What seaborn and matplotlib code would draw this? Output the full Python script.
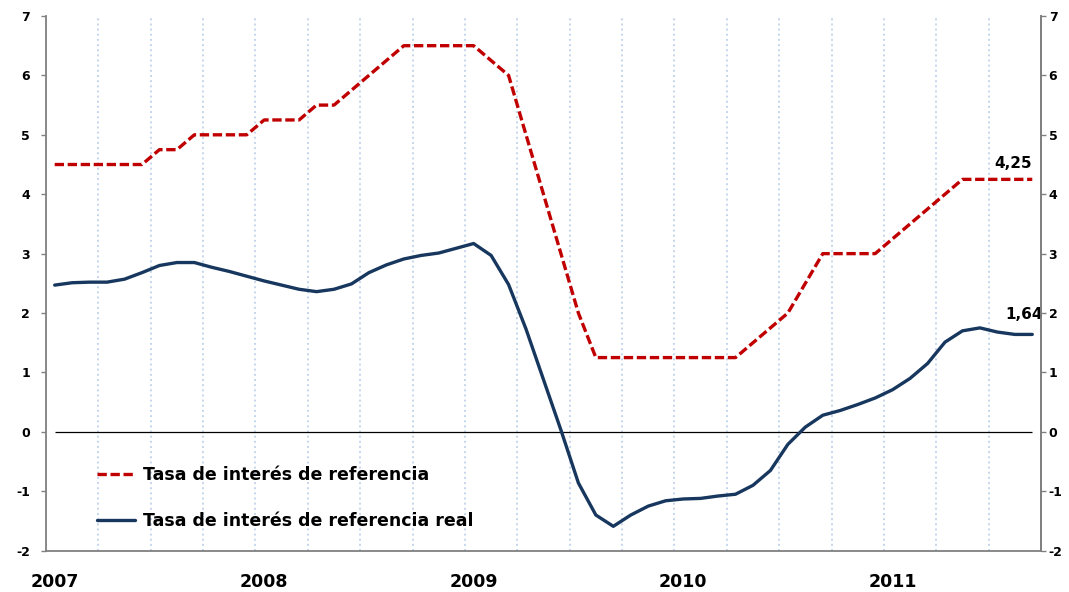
import matplotlib.pyplot as plt
import numpy as np
import pandas as pd
import seaborn as sns

# monthly data, Jan 2007 - Sep 2011
tasa_ref = [4.50, 4.50, 4.50, 4.50, 4.50, 4.50, 4.75, 4.75, 5.00, 5.00, 5.00, 5.00,
            5.25, 5.25, 5.25, 5.50, 5.50, 5.75, 6.00, 6.25, 6.50, 6.50, 6.50, 6.50,
            6.50, 6.25, 6.00, 5.00, 4.00, 3.00, 2.00, 1.25, 1.25, 1.25, 1.25, 1.25,
            1.25, 1.25, 1.25, 1.25, 1.50, 1.75, 2.00, 2.50, 3.00, 3.00, 3.00, 3.00,
            3.25, 3.50, 3.75, 4.00, 4.25, 4.25, 4.25, 4.25, 4.25]
tasa_real = [2.47, 2.51, 2.52, 2.52, 2.57, 2.68, 2.80, 2.85, 2.85, 2.77, 2.70, 2.62,
             2.54, 2.47, 2.40, 2.36, 2.40, 2.49, 2.68, 2.81, 2.91, 2.97, 3.01, 3.09,
             3.17, 2.97, 2.48, 1.73, 0.88, 0.03, -0.86, -1.40, -1.59, -1.40, -1.25, -1.16,
             -1.13, -1.12, -1.08, -1.05, -0.90, -0.65, -0.21, 0.08, 0.28, 0.36, 0.46, 0.57,
             0.71, 0.90, 1.15, 1.51, 1.70, 1.75, 1.68, 1.64, 1.64]
years = ["2007", "2008", "2009", "2010", "2011"]
yticks = [-2, -1, 0, 1, 2, 3, 4, 5, 6, 7]

lbl_ref = "Tasa de interés de referencia"
lbl_real = "Tasa de interés de referencia real"

n = len(tasa_ref)
df = pd.DataFrame({"mes": np.arange(n) + 0.5, "ref": tasa_ref, "real": tasa_real})

sns.set_style("white")
plt.rcParams["font.family"] = ["DejaVu Sans"]
plt.rcParams["text.color"] = "black"

fig = plt.figure(figsize=(10.69, 5.92), dpi=100)
ax = fig.add_axes([0.043, 0.0698, 0.9308, 0.9032])

sns.lineplot(data=df, x="mes", y="ref", ax=ax, color="#c00000", linewidth=2.4, label=lbl_ref)
ax.lines[-1].set_dashes([2.8, 1.1])
ax.lines[-1].set_dash_capstyle("butt")
sns.lineplot(data=df, x="mes", y="real", ax=ax, color="#17375e", linewidth=2.4, label=lbl_real)

ax.hlines(0, df["mes"].iloc[0], df["mes"].iloc[-1], color="black", linewidth=0.9, zorder=1)

ax.set_xlim(0, n)
ax.set_ylim(-2, 7)
ax.set_yticks(yticks)
ax.set_yticklabels([str(v) for v in yticks], fontweight="bold", fontsize=9)
ax.set_xticks(np.arange(0, n + 1, 3), minor=True)
ax.set_xticks(np.arange(len(years)) * 12 + 0.5)
ax.set_xticklabels(years, fontweight="bold", fontsize=12.5)
ax.tick_params(axis="x", which="major", length=0, pad=16, labelcolor="black")
ax.tick_params(axis="x", which="minor", length=3, width=1, color="#808080", direction="out")
ax.tick_params(axis="y", length=3.5, width=1, color="#808080", direction="out", pad=8,
               labelcolor="black")
ax.grid(False)
ax.grid(True, axis="x", which="minor", color="#c5d6ec", linestyle=":", linewidth=1.4)
ax.set_xlabel("")
ax.set_ylabel("")

for s in ["left", "bottom", "right"]:
    ax.spines[s].set_color("#808080")
    ax.spines[s].set_linewidth(1.3)
ax.spines["top"].set_visible(False)

ax2 = ax.twinx()
ax2.set_ylim(-2, 7)
ax2.set_yticks(yticks)
ax2.set_yticklabels([str(v) for v in yticks], fontweight="bold", fontsize=9)
ax2.tick_params(axis="y", length=3.5, width=1, color="#808080", direction="out", pad=2,
                labelcolor="black")
for s in ["left", "bottom", "top"]:
    ax2.spines[s].set_visible(False)
ax2.spines["right"].set_color("#808080")
ax2.spines["right"].set_linewidth(1.3)

ax.annotate(f"{tasa_ref[-1]:.2f}".replace(".", ","), xy=(df["mes"].iloc[-1], tasa_ref[-1]),
            xytext=(-14, 8), textcoords="offset points", ha="center", va="baseline",
            fontweight="bold", fontsize=11)
ax.annotate(f"{tasa_real[-1]:.2f}".replace(".", ","), xy=(df["mes"].iloc[-1], tasa_real[-1]),
            xytext=(-6, 11), textcoords="offset points", ha="center", va="baseline",
            fontweight="bold", fontsize=11)

leg = ax.legend(loc="upper left", bbox_to_anchor=(0.051, 0.159), frameon=False,
                prop=dict(weight="bold", size=12.5), handlelength=2.2, handletextpad=0.45,
                labelspacing=1.65, borderaxespad=0, borderpad=0)
for t in leg.get_texts():
    t.set_color("black")

fig.savefig("out.png", dpi=100)
